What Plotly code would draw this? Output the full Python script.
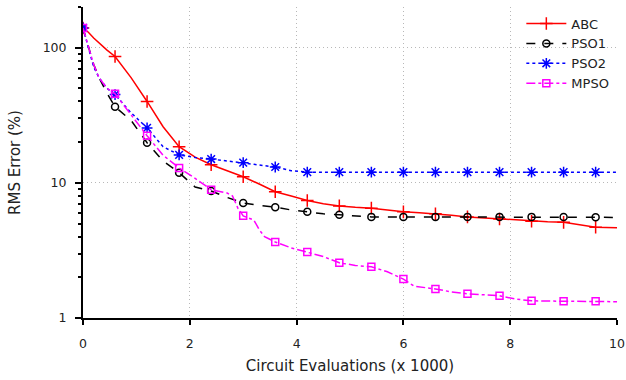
import plotly.graph_objects as go

# ---- data (x in thousands of circuit evaluations, y = RMS error %) ----
abc_x = [0, 0.1, 0.2, 0.3, 0.45, 0.6, 0.9, 1.2, 1.5, 1.8, 2.1, 2.4, 2.7, 3.0, 3.3, 3.6, 3.9, 4.2,
         4.5, 4.8, 5.1, 5.4, 5.7, 6.0, 6.3, 6.6, 6.9, 7.2, 7.5, 7.8, 8.1, 8.4, 8.7, 9.0, 9.3, 9.6, 10.0]
abc_y = [140, 130, 118, 108, 96, 86, 60, 40, 26, 18.5, 15.5, 13.6, 12.3, 11.1, 9.8, 8.6, 8.0, 7.4,
         7.0, 6.75, 6.6, 6.5, 6.3, 6.1, 6.0, 5.9, 5.75, 5.6, 5.5, 5.4, 5.3, 5.2, 5.15, 5.1, 4.9, 4.7, 4.65]

pso1_x = [0, 0.1, 0.2, 0.3, 0.45, 0.6, 0.9, 1.2, 1.5, 1.8, 2.1, 2.4, 2.7, 3.0, 3.3, 3.6, 3.9, 4.2,
          4.5, 4.8, 5.1, 5.4, 6.0, 6.6, 7.2, 7.8, 8.4, 9.0, 9.6, 10.0]
pso1_y = [140, 100, 75, 60, 46, 36.5, 29, 19.8, 14.5, 11.9, 9.3, 8.7, 7.8, 7.1, 6.8, 6.6, 6.3, 6.1,
          5.9, 5.8, 5.7, 5.6, 5.6, 5.6, 5.6, 5.6, 5.6, 5.58, 5.56, 5.55]

pso2_x = [0, 0.1, 0.2, 0.3, 0.45, 0.6, 0.9, 1.2, 1.5, 1.8, 2.1, 2.4, 2.7, 3.0, 3.3, 3.6, 3.9, 4.2,
          4.8, 5.4, 6.0, 6.6, 7.2, 7.8, 8.4, 9.0, 9.6, 10.0]
pso2_y = [140, 100, 72, 60, 50, 45, 33, 25.5, 18.5, 16.1, 15.4, 15.0, 14.5, 14.1, 13.6, 13.1, 12.3, 12.0,
          12.0, 12.0, 12.0, 12.0, 12.0, 12.0, 12.0, 12.0, 12.0, 12.0]

mpso_x = [0, 0.1, 0.2, 0.3, 0.45, 0.6, 0.9, 1.2, 1.5, 1.8, 2.1, 2.4, 2.7, 2.8, 2.9, 3.0, 3.2, 3.3, 3.4,
          3.6, 3.9, 4.2, 4.5, 4.8, 5.1, 5.4, 5.7, 6.0, 6.2, 6.6, 6.9, 7.2, 7.8, 8.1, 8.4, 9.0, 9.6, 10.0]
mpso_y = [140, 100, 75, 60, 50, 45.6, 32, 22.3, 16, 12.9, 10.8, 8.9, 8.4, 8.0, 6.5, 5.7, 5.3, 4.5, 4.0,
          3.65, 3.3, 3.08, 2.85, 2.56, 2.45, 2.39, 2.2, 1.94, 1.72, 1.64, 1.56, 1.51, 1.46, 1.38, 1.34, 1.33, 1.33, 1.32]

series = [
    ("ABC", abc_x, abc_y, "#ff0000", "solid", "cross-thin-open", 9),
    ("PSO1", pso1_x, pso1_y, "#000000", "dash", "circle-open", 7),
    ("PSO2", pso2_x, pso2_y, "#0000ff", "dot", "asterisk-open", 9),
    ("MPSO", mpso_x, mpso_y, "#ff00ff", "dashdot", "square-open", 7),
]

x_ticks = [0, 2, 4, 6, 8, 10]
y_ticks = [1, 10, 100]
y_minor = [v * d for d in (1, 10, 100) for v in range(2, 10) if v * d <= 200]

FONT = "DejaVu Sans"
TXT = "#222222"
fig = go.Figure()
for name, xs, ys, color, dash, sym, ms in series:
    fig.add_trace(go.Scatter(x=xs, y=ys, mode="lines", showlegend=False,
                             line=dict(color=color, width=1.5, dash=dash)))
    mx = [x for x in xs if abs(x * 10 / 6 - round(x * 10 / 6)) < 1e-6]
    my = [y for x, y in zip(xs, ys) if abs(x * 10 / 6 - round(x * 10 / 6)) < 1e-6]
    fig.add_trace(go.Scatter(x=mx, y=my, mode="markers", showlegend=False,
                             marker=dict(symbol=sym, size=ms, color=color,
                                         line=dict(color=color, width=1.5))))
    fig.add_trace(go.Scatter(x=[None], y=[None], mode="lines+markers", name=name,
                             line=dict(color=color, width=1.5, dash=dash),
                             marker=dict(symbol=sym, size=ms, color=color,
                                         line=dict(color=color, width=1.5))))

grid_dash = "1px,3px"
fig.update_layout(
    width=626, height=380,
    margin=dict(l=83, r=9, t=7, b=62, autoexpand=False),
    paper_bgcolor="white", plot_bgcolor="white",
    font=dict(family=FONT, size=12.5, color=TXT),
    showlegend=True,
    legend=dict(x=0.995, y=0.995, xanchor="right", yanchor="top",
                bgcolor="rgba(255,255,255,0)", font=dict(size=13, color=TXT),
                tracegroupgap=0, itemwidth=40),
    xaxis=dict(range=[0, 10], tickvals=x_ticks, ticks="outside", ticklen=5, tickwidth=1.5,
               tickcolor="black", showline=True, linecolor="black", linewidth=2,
               showgrid=True, gridcolor="#b8b8b8", griddash=grid_dash, gridwidth=1,
               zeroline=False, automargin=False, ticklabelstandoff=8,
               ticklabeloverflow="allow",
               title=dict(text="Circuit Evaluations (x 1000)", standoff=10),
               tickfont=dict(size=12.5)),
    yaxis=dict(type="log", range=[0, 2.301], tickvals=y_ticks, ticktext=["1", "10", "100"],
               ticks="outside", ticklen=6, tickwidth=1.5, tickcolor="black",
               minor=dict(tickvals=y_minor, ticks="outside", ticklen=3, tickcolor="black", showgrid=False),
               showline=True, linecolor="black", linewidth=2,
               showgrid=True, gridcolor="#b8b8b8", griddash=grid_dash, gridwidth=1,
               zeroline=False, automargin=False, ticklabelstandoff=6,
               title=dict(text="RMS Error (%)", standoff=18),
               tickfont=dict(size=12.5)),
)

fig.write_html("out.html", config={"displayModeBar": False},
               post_script="document.body.style.margin='0px';document.body.style.padding='0px';")
